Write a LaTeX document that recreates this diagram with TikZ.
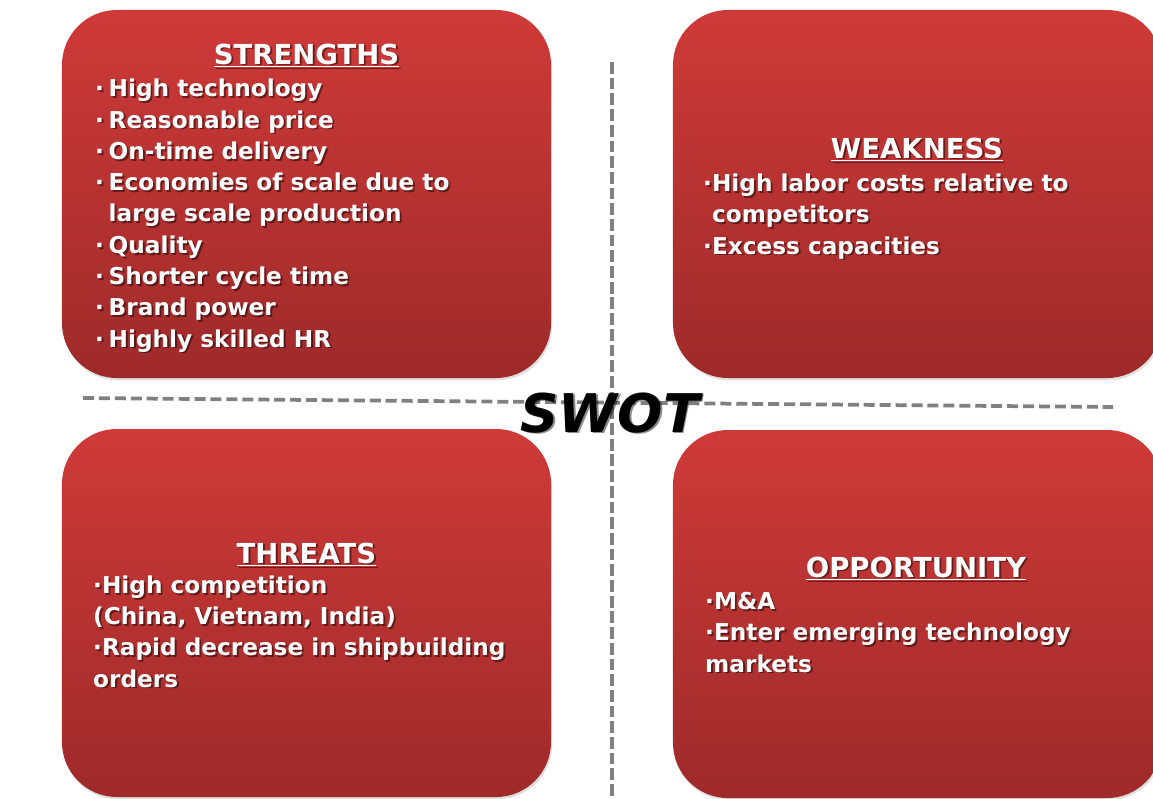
\documentclass[tikz,border=0pt]{standalone}
\usepackage{fontspec}
\usetikzlibrary{shadows}
\newfontfamily\boxfont{DejaVu Sans}
\newfontfamily\logofont{DejaVu Sans}
\definecolor{redtop}{RGB}{206,58,56}
\definecolor{redbot}{RGB}{158,42,42}
\definecolor{sepgray}{RGB}{128,128,128}
% text with a soft dark shadow under it
\newcommand{\shtext}[4]{%
  \node[#1,text=black,opacity=.45,xshift=1.6pt,yshift=-1.6pt] at #3 {#4};
  \node[#1] (#2) at #3 {#4};}
\newcommand{\dotb}{·\hspace{4pt}}

\begin{document}
\begin{tikzpicture}[x=0.03cm,y=-0.03cm]

\def\bw{14.67cm}
\def\bh{11.04cm}
\tikzstyle{quad} = [
	rectangle, rounded corners=1.65cm, draw=none,
	top color=redtop, bottom color=redbot,
	drop shadow={opacity=.25,shadow xshift=1pt,shadow yshift=-2pt},
	minimum width=\bw, minimum height=\bh ];
\tikzstyle{head} = [text=white, anchor=base, inner sep=0pt,
	font=\boxfont\bfseries\fontsize{23.5}{28}\selectfont];
% anchor is the baseline of the last line
\tikzstyle{items} = [text=white, anchor=base west, inner sep=0pt, align=left,
	font=\boxfont\bfseries\fontsize{19.8}{26.7}\selectfont];
\tikzstyle{logo} = [text=black, anchor=base, inner sep=0pt,
	font=\logofont\bfseries\itshape\fontsize{45.5}{50}\selectfont];
\tikzstyle{sep} = [draw=sepgray];
\useasboundingbox (0,0) rectangle (1153,798);

\node[quad] (str) at (306.5,194) {};
\node[quad] (wea) at (917.5,194) {};
\node[quad] (thr) at (306.5,613) {};
\node[quad] (opp) at (917.5,614) {};

\coordinate (vtop) at (612,62);
\coordinate (vbot) at (612,798);
\coordinate (hl) at (83,398);
\coordinate (hr) at (1113,407);
\draw[sep, line width=2.6pt, dash pattern=on 10pt off 3.4pt] (vtop) -- (vbot);
\draw[sep, line width=3.2pt, dash pattern=on 9.4pt off 4.2pt] (hl) -- (hr);

\shtext{head}{strh}{(306.5,64)}{\underline{STRENGTHS}}
\shtext{items}{strt}{(95,347)}{\dotb High technology\\
	\dotb Reasonable price\\
	\dotb On-time delivery\\
	\dotb Economies of scale due to\\
	\phantom{\dotb}large scale production\\
	\dotb Quality\\
	\dotb Shorter cycle time\\
	\dotb Brand power\\
	\dotb Highly skilled HR}

\shtext{head}{weah}{(917,158)}{\underline{WEAKNESS}}
\shtext{items}{weat}{(703,254)}{·High labor costs relative to\\
	\phantom{·}competitors\\
	·Excess capacities}

\shtext{head}{thrh}{(306.5,563)}{\underline{THREATS}}
\shtext{items}{thrt}{(93,687)}{·High competition\\
	(China, Vietnam, India)\\
	·Rapid decrease in shipbuilding\\
	orders}

\shtext{head}{opph}{(916,577)}{\underline{OPPORTUNITY}}
\shtext{items}{oppt}{(705,672)}{·M\&A\\
	·Enter emerging technology\\
	markets}

\shtext{logo}{swot}{(610,432)}{SWOT}

\end{tikzpicture}
\end{document}
